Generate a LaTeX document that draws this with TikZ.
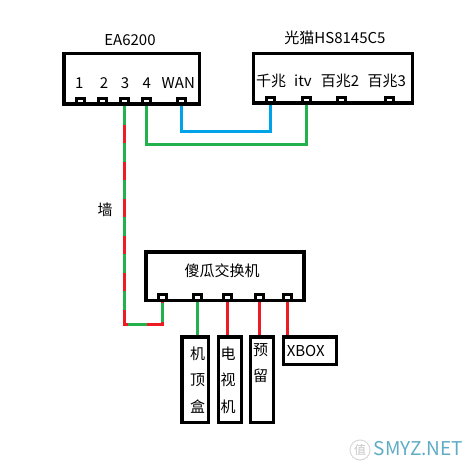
\documentclass[tikz,border=0pt]{standalone}
\usepackage{fontspec}
\setmainfont{Noto Sans CJK SC}
\usetikzlibrary{calc}
\pgfdeclarelayer{bg}
\pgfdeclarelayer{back}
\pgfsetlayers{back,bg,main}
\definecolor{pgreen}{RGB}{34,177,76}
\definecolor{pred}{RGB}{237,28,36}
\definecolor{pblue}{RGB}{0,162,232}
\definecolor{wmark}{RGB}{95,172,198}
\begin{document}
\begin{tikzpicture}[x=1pt,y=-1pt,
  box/.style={draw=black,line width=3.5pt,rectangle,inner sep=0pt},
  port/.style={draw=black,line width=3pt,rectangle,inner sep=0pt,minimum width=8pt,minimum height=5.5pt},
  lbl/.style={font=\fontsize{15}{18}\selectfont,inner sep=0pt},
  vlbl/.style={font=\fontsize{15}{26.5}\selectfont,inner sep=0pt,align=center},
  cable/.style={line width=3pt}]
\begin{pgfonlayer}{back}
\fill[white] (0,0) rectangle (473,468);
\end{pgfonlayer}
\useasboundingbox (0,0) rectangle (473,468);
% router
\node[box,minimum width=135.5pt,minimum height=50.5pt] (ea) at (131.5,79) {};
\node[lbl] (eaT) at (130,40) {EA6200};
\foreach \n/\x in {1/80,2/102.7,3/124.3,4/146,W/181.5}
  \node[port] (ea\n) at (\x,101.5) {};
\node[lbl] (eaL1) at (79.3,83) {1};
\node[lbl] (eaL2) at (104,83) {2};
\node[lbl] (eaL3) at (125,83) {3};
\node[lbl] (eaL4) at (146.7,83) {4};
\node[lbl] (eaLW) at (178.3,83) {WAN};
% modem
\node[box,minimum width=158.8pt,minimum height=49.5pt] (modem) at (332.85,78.5) {};
\node[lbl] (modemT) at (335,38) {光猫HS8145C5};
\foreach \n/\x in {1/270.3,2/306.3,3/341.7,4/389}
  \node[port] (m\n) at (\x,100.5) {};
\node[lbl] (mL1) at (271,80.7) {千兆};
\node[lbl] (mL2) at (303,80.7) {itv};
\node[lbl] (mL3) at (340,80.7) {百兆2};
\node[lbl] (mL4) at (386.7,80.7) {百兆3};
% switch
\node[box,minimum width=158pt,minimum height=48.5pt] (sw) at (225,276) {};
\node[lbl] (swT) at (222,271) {傻瓜交换机};
\foreach \n/\x in {1/162.3,2/197.3,3/227.7,4/259.7,5/287}
  \node[port] (s\n) at (\x,297.5) {};
% devices
\node[box,minimum width=26.5pt,minimum height=85.5pt] (stb) at (195,379.5) {};
\node[box,minimum width=23.1pt,minimum height=85.5pt] (tv) at (230,379.5) {};
\node[box,minimum width=22.8pt,minimum height=85.5pt] (res) at (261.85,379.5) {};
\node[box,minimum width=53.1pt,minimum height=27.5pt] (xbox) at (310,350.5) {};
\node[vlbl] (stbL) at (197.7,380) {机\\顶\\盒};
\node[vlbl] (tvL) at (228,380) {电\\视\\机};
\node[vlbl,anchor=north] (resL) at (260.7,343) {预\\留};
\node[lbl] (xboxL) at (305.7,351) {XBOX};
\node[lbl] (wall) at (105,210) {墙};
% watermark
\node[circle,draw=gray!30,line width=1pt,minimum size=20pt,inner sep=0pt,text=gray!45,font=\fontsize{12}{12}\selectfont] (wmi) at (360,450) {值};
\node[font=\fontsize{19}{19}\selectfont,text=wmark,inner sep=0pt] (wm) at (418.5,448.5) {SMYZ.NET};
% cables
\coordinate (wallc) at ($(s1.south)+(0,22.5)$);
\begin{pgfonlayer}{bg}
\draw[cable,pblue] (eaW.south) -- ++(0,26) -| (m1.south);
\draw[cable,pgreen] (ea4.south) -- ++(0,39) -| (m2.south);
\draw[cable,pred] (ea3.south) |- (wallc) -- (s1.south);
\draw[cable,pgreen,dash pattern=on 19pt off 18pt] (ea3.south) |- (wallc) -- (s1.south);
\draw[cable,pgreen] (s2.south) -- (s2.south |- stb.north);
\draw[cable,pred] (s3.south) -- (s3.south |- tv.north);
\draw[cable,pred] (s4.south) -- (s4.south |- res.north);
\draw[cable,pred] (s5.south) -- (s5.south |- xbox.north);
\end{pgfonlayer}
\end{tikzpicture}
\end{document}
